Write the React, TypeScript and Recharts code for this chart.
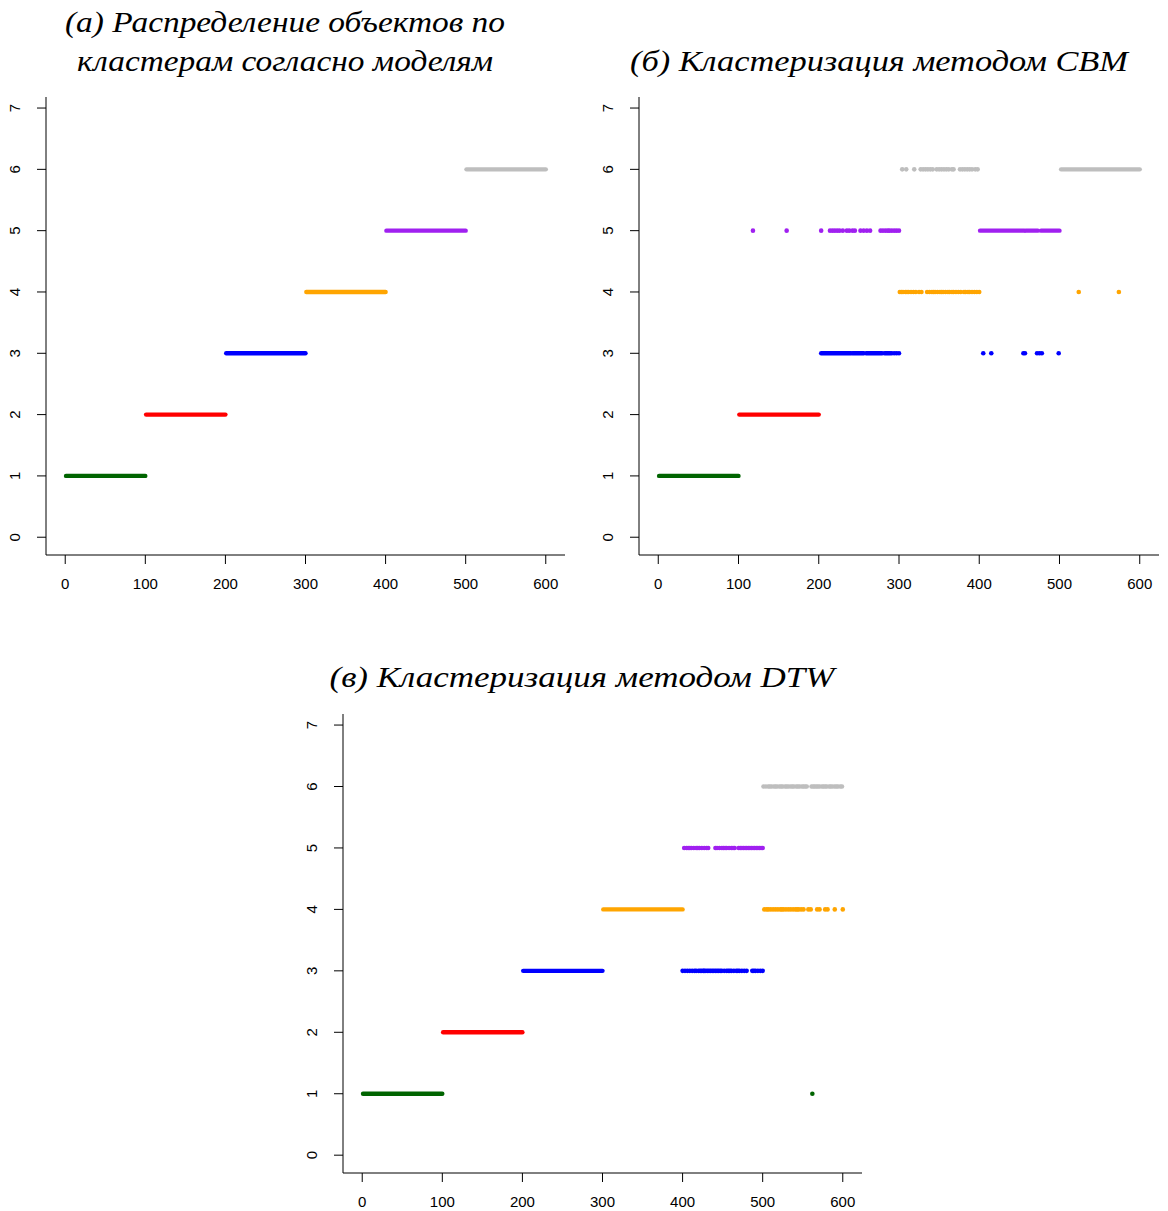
import React from 'react';
import { ComposedChart, Scatter, XAxis, YAxis } from 'recharts';

const X_TICKS = [0, 100, 200, 300, 400, 500, 600];
const Y_TICKS = [0, 1, 2, 3, 4, 5, 6, 7];
// cluster 1..6
const CLUSTER_COLORS = ['#006400', '#FF0000', '#0000FF', '#FFA500', '#A020F0', '#BEBEBE'];

const TITLE_A1 = '(а) Распределение объектов по';
const TITLE_A2 = 'кластерам согласно моделям';
const TITLE_B = '(б) Кластеризация методом CBM';
const TITLE_C = '(в) Кластеризация методом DTW';

// dense runs of consecutive objects: [cluster, firstObject, lastObject]
type Run = [number, number, number];
const A_RUNS: Run[] = [
  [1, 1, 100], [2, 101, 200], [3, 201, 300], [4, 301, 400], [5, 401, 500], [6, 501, 600],
];
const B_RUNS: Run[] = [
  [1, 1, 100], [2, 101, 200],
  [3, 203, 240], [3, 242, 256], [3, 259, 279], [3, 282, 289],
  [5, 401, 456], [5, 458, 473], [5, 477, 500],
  [6, 502, 600],
];
const C_RUNS: Run[] = [
  [1, 1, 100], [2, 101, 200], [3, 201, 300], [4, 301, 400],
];

// isolated objects (x positions) per cluster
const B_POINTS_C3 = [291, 294, 297, 300, 405, 415, 455, 457, 472, 475, 478, 499];
const B_POINTS_C4 = [301, 303, 305, 308, 310, 312, 315, 318, 321, 325, 328, 335, 338, 341, 343, 345, 348, 351, 353, 355, 358, 361, 363, 366, 368, 371, 374, 377, 381, 383, 386, 388, 391, 394, 397, 400, 524, 574];
const B_POINTS_C5 = [118, 160, 203, 214, 217, 220, 223, 226, 230, 235, 238, 242, 245, 252, 256, 260, 264, 277, 280, 283, 286, 288, 291, 294, 297, 300];
const B_POINTS_C6 = [304, 309, 319, 327, 330, 333, 336, 339, 342, 347, 350, 353, 356, 359, 362, 366, 368, 376, 379, 382, 385, 388, 391, 395, 398];

const C_POINTS_C1 = [562];
const C_POINTS_C3 = [400, 403, 406, 409, 412, 415, 417, 420, 422, 424, 426, 427, 429, 431, 433, 435, 437, 439, 441, 443, 445, 447, 449, 452, 455, 457, 459, 461, 464, 467, 469, 471, 474, 477, 480, 487, 489, 491, 494, 497, 500];
const C_POINTS_C4 = [502, 505, 507, 510, 513, 516, 519, 522, 524, 526, 529, 532, 535, 538, 541, 543, 545, 548, 551, 557, 560, 568, 571, 578, 581, 590, 600];
const C_POINTS_C5 = [402, 405, 407, 409, 411, 414, 417, 419, 421, 424, 427, 430, 432, 441, 443, 446, 449, 451, 453, 455, 458, 461, 463, 465, 470, 472, 474, 476, 478, 480, 482, 484, 486, 488, 490, 492, 494, 496, 498, 500];
const C_POINTS_C6 = [501, 504, 507, 509, 511, 514, 516, 518, 521, 523, 525, 528, 530, 532, 535, 537, 539, 542, 544, 546, 549, 551, 553, 555, 561, 563, 565, 567, 569, 571, 574, 576, 578, 580, 583, 585, 587, 590, 592, 594, 597, 599];

type PointSet = { cluster: number; xs: number[] };
const B_POINTS: PointSet[] = [
  { cluster: 3, xs: B_POINTS_C3 }, { cluster: 4, xs: B_POINTS_C4 },
  { cluster: 5, xs: B_POINTS_C5 }, { cluster: 6, xs: B_POINTS_C6 },
];
const C_POINTS: PointSet[] = [
  { cluster: 1, xs: C_POINTS_C1 }, { cluster: 3, xs: C_POINTS_C3 }, { cluster: 4, xs: C_POINTS_C4 },
  { cluster: 5, xs: C_POINTS_C5 }, { cluster: 6, xs: C_POINTS_C6 },
];

const TICK_FONT = '"Liberation Sans", Arial, sans-serif';

const XTick = (props: any) => {
  const { x, y, payload } = props;
  return (
    <text x={x} y={y} dy={23.4} textAnchor="middle" fontFamily={TICK_FONT} fontSize={15} fill="#000">
      {payload.value}
    </text>
  );
};

const YTick = (props: any) => {
  const { x, y, payload } = props;
  const bx = x - 14.6;
  return (
    <text x={bx} y={y} transform={`rotate(-90 ${bx} ${y})`} textAnchor="middle" fontFamily={TICK_FONT} fontSize={15} fill="#000">
      {payload.value}
    </text>
  );
};

const Empty = () => <g />;

type PanelProps = {
  left: number; top: number; width: number; height: number;
  yAxisWidth: number; xAxisHeight: number; marginTop: number; marginRight: number;
  runs: Run[]; points: PointSet[];
};

const Panel = ({ left, top, width, height, yAxisWidth, xAxisHeight, marginTop, marginRight, runs, points }: PanelProps) => (
  <div style={{ position: 'absolute', left, top, width, height }}>
    <ComposedChart width={width} height={height} margin={{ top: marginTop, right: marginRight, bottom: 0, left: 0 }}>
      <XAxis
        type="number" dataKey="x" domain={[-24, 624]} ticks={X_TICKS} interval={0} allowDataOverflow
        height={xAxisHeight} stroke="#000" tickSize={9} tickMargin={2} tick={<XTick />}
      />
      <YAxis
        type="number" dataKey="y" domain={[-0.29, 7.18]} ticks={Y_TICKS} interval={0} allowDataOverflow
        width={yAxisWidth} stroke="#000" tickSize={9} tickMargin={2} tick={<YTick />}
      />
      {runs.map(([c, from, to], i) => (
        <Scatter
          key={`r${i}`}
          data={[{ x: from, y: c }, { x: to, y: c }]}
          fill={CLUSTER_COLORS[c - 1]}
          line={{ stroke: CLUSTER_COLORS[c - 1], strokeWidth: 4.4, strokeLinecap: 'round' } as any}
          shape={<Empty />}
          isAnimationActive={false}
        />
      ))}
      {points.map((p, i) => (
        <Scatter
          key={`p${i}`}
          data={p.xs.map((x) => ({ x, y: p.cluster }))}
          fill={CLUSTER_COLORS[p.cluster - 1]}
          shape={(sp: any) => <circle cx={sp.cx} cy={sp.cy} r={2.3} fill={CLUSTER_COLORS[p.cluster - 1]} />}
          isAnimationActive={false}
        />
      ))}
    </ComposedChart>
  </div>
);

const TITLE_FONT = '"Liberation Serif", "DejaVu Serif", serif';

const Title = ({ cx, y, text, len }: { cx: number; y: number; text: string; len: number }) => (
  <text
    x={cx} y={y} textAnchor="middle" fontFamily={TITLE_FONT} fontStyle="italic" fontSize={30}
    fill="#000" textLength={len} lengthAdjust="spacingAndGlyphs"
  >
    {text}
  </text>
);

export default function App() {
  return (
    <div style={{ position: 'absolute', left: 0, top: 0, width: 1168, height: 1211, background: '#fff' }}>
      <svg width={1168} height={1211} style={{ position: 'absolute', left: 0, top: 0 }}>
        <Title cx={285} y={32} text={TITLE_A1} len={440} />
        <Title cx={285} y={71} text={TITLE_A2} len={416} />
        <Title cx={879} y={71} text={TITLE_B} len={498} />
        <Title cx={582} y={687} text={TITLE_C} len={505} />
      </svg>
      <Panel left={0} top={80} width={580} height={540} yAxisWidth={46} xAxisHeight={65} marginTop={17} marginRight={15} runs={A_RUNS} points={[]} />
      <Panel left={580} top={80} width={588} height={540} yAxisWidth={59} xAxisHeight={65} marginTop={17} marginRight={9} runs={B_RUNS} points={B_POINTS} />
      <Panel left={290} top={700} width={590} height={511} yAxisWidth={53} xAxisHeight={38} marginTop={14} marginRight={18} runs={C_RUNS} points={C_POINTS} />
    </div>
  );
}
